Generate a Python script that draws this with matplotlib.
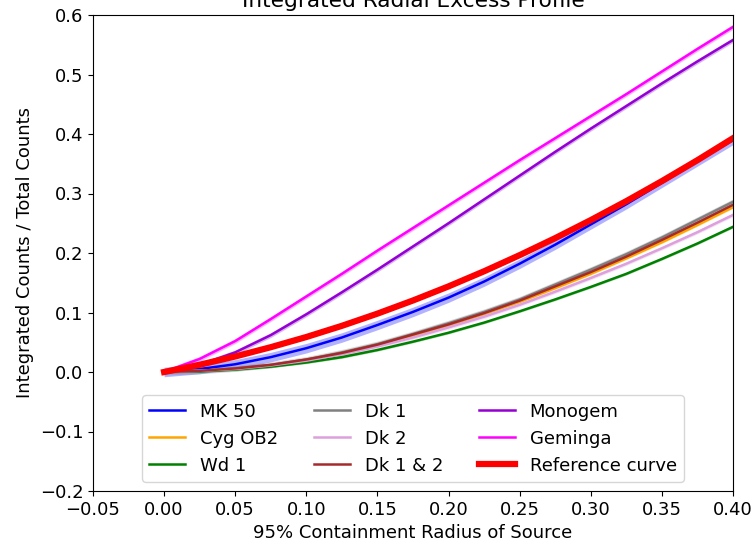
import matplotlib
matplotlib.use("Agg")
import matplotlib.pyplot as plt
import numpy as np

radius = [0.0, 0.025, 0.05, 0.075, 0.1, 0.125, 0.15, 0.175, 0.2, 0.225,
          0.25, 0.275, 0.3, 0.325, 0.35, 0.375, 0.4]

mk50 = [0.0, 0.005, 0.013, 0.025, 0.040, 0.058, 0.079, 0.101, 0.125, 0.152,
        0.182, 0.214, 0.248, 0.282, 0.318, 0.354, 0.390]
cygob2 = [0.0, 0.002, 0.005, 0.011, 0.020, 0.031, 0.045, 0.061, 0.079, 0.098,
          0.118, 0.141, 0.165, 0.191, 0.218, 0.247, 0.277]
wd1 = [0.0, 0.001, 0.004, 0.009, 0.016, 0.025, 0.037, 0.051, 0.066, 0.083,
       0.102, 0.122, 0.143, 0.165, 0.190, 0.216, 0.244]
dk1 = [0.0, 0.002, 0.006, 0.012, 0.021, 0.033, 0.047, 0.064, 0.082, 0.101,
       0.122, 0.147, 0.172, 0.198, 0.226, 0.256, 0.286]
dk2 = [0.0, 0.002, 0.005, 0.011, 0.019, 0.030, 0.043, 0.058, 0.075, 0.093,
       0.113, 0.135, 0.158, 0.182, 0.208, 0.235, 0.264]
dk12 = [0.0, 0.002, 0.006, 0.012, 0.021, 0.032, 0.046, 0.063, 0.080, 0.099,
        0.120, 0.144, 0.168, 0.194, 0.222, 0.251, 0.281]
monogem = [0.0, 0.012, 0.033, 0.062, 0.097, 0.134, 0.172, 0.211, 0.250, 0.290,
           0.330, 0.370, 0.409, 0.447, 0.485, 0.522, 0.558]
geminga = [0.0, 0.022, 0.052, 0.089, 0.127, 0.165, 0.204, 0.242, 0.280, 0.318,
           0.356, 0.393, 0.430, 0.467, 0.505, 0.543, 0.580]
reference = [0.0, 0.0122, 0.0261, 0.0417, 0.0588, 0.0776, 0.0981, 0.1202, 0.1439,
             0.1693, 0.1964, 0.2250, 0.2553, 0.2872, 0.3208, 0.3560, 0.3929]

labels = ["MK 50", "Cyg OB2", "Wd 1", "Dk 1", "Dk 2", "Dk 1 & 2", "Monogem", "Geminga"]
series = [mk50, cygob2, wd1, dk1, dk2, dk12, monogem, geminga]
colors = ["blue", "orange", "green", "gray", "plum", "brown", "darkviolet", "magenta"]
band = [0.008, 0.002, 0.002, 0.005, 0.003, 0.002, 0.004, 0.004]

plt.rcParams["font.size"] = 13

fig = plt.figure(figsize=(7.56, 5.46), dpi=100)
ax = fig.add_axes([93/756, 55/546, 640/756, 476/546])

x = np.array(radius)
for lab, ys, c, b in zip(labels, series, colors, band):
    ys = np.array(ys)
    ax.fill_between(x, ys - b, ys + b, color=c, alpha=0.3, linewidth=0)
    ax.plot(x, ys, color=c, lw=1.8, label=lab)
ax.plot(x, reference, color="red", lw=4.5, label="Reference curve")

ax.set_xlim(-0.05, 0.4)
ax.set_ylim(-0.2, 0.6)
xt = np.arange(-0.05, 0.401, 0.05)
ax.set_xticks(xt)
ax.set_xticklabels([f"{v:.2f}".replace("-", "\u2212") for v in xt])
ax.set_xlabel("95% Containment Radius of Source")
ax.set_ylabel("Integrated Counts / Total Counts")
ax.set_title("Integrated Radial Excess Profile", fontsize=15.6)
ax.legend(loc="lower center", ncol=3)

fig.savefig("out.png", dpi=100)
